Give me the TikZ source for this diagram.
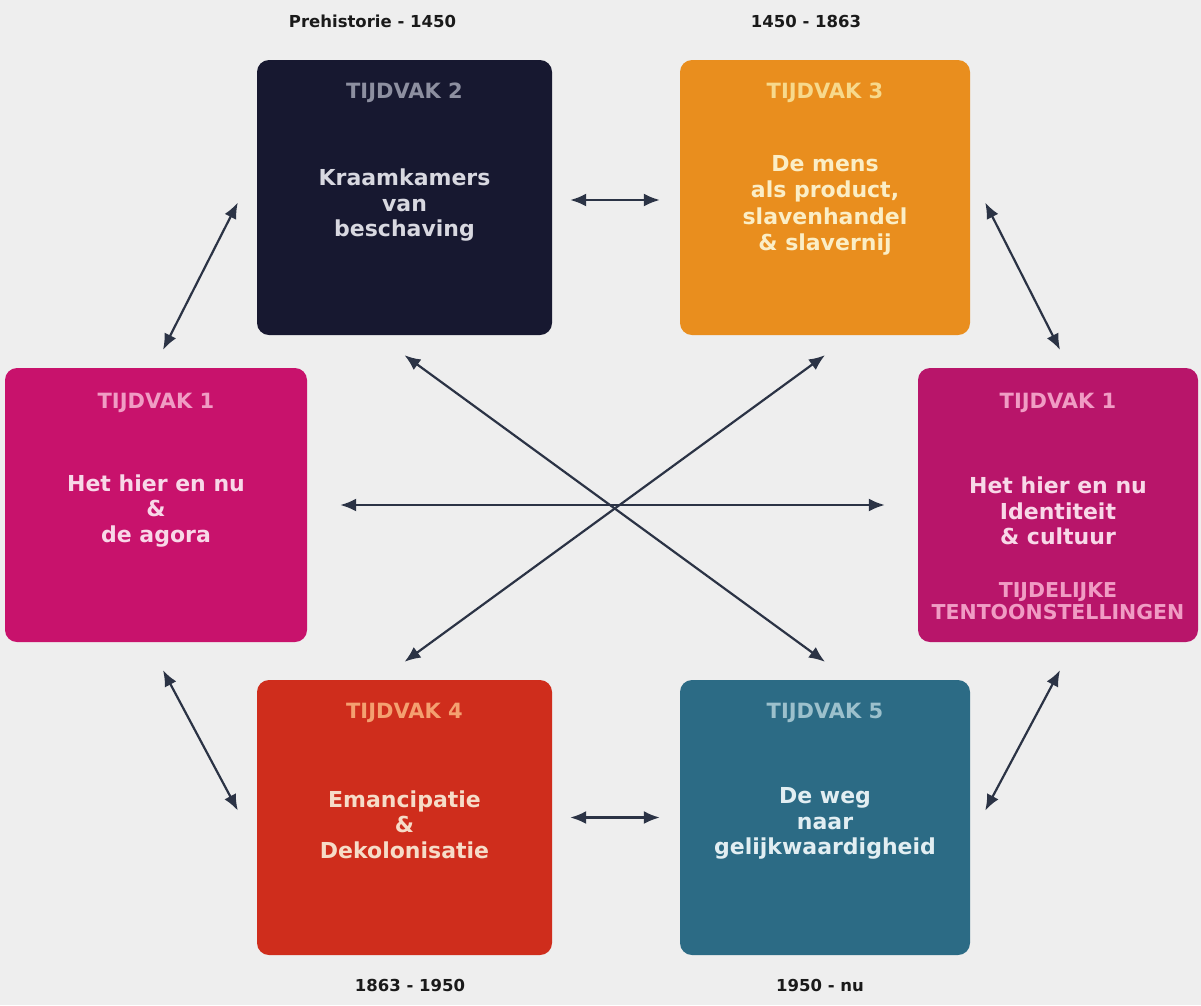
\documentclass[tikz,border=0pt]{standalone}
\usepackage{fontspec}
\setmainfont{DejaVu Sans}
\usetikzlibrary{arrows.meta,positioning,calc}

\definecolor{achtergrond}{RGB}{238,238,238}
\definecolor{navy}{RGB}{23,24,48}
\definecolor{navykop}{RGB}{141,143,160}
\definecolor{navytekst}{RGB}{216,216,224}
\definecolor{oranje}{RGB}{233,142,30}
\definecolor{oranjekop}{RGB}{247,217,140}
\definecolor{oranjetekst}{RGB}{251,238,198}
\definecolor{roze}{RGB}{200,18,108}
\definecolor{rozedonker}{RGB}{184,21,106}
\definecolor{rozekop}{RGB}{240,156,196}
\definecolor{rozetekst}{RGB}{248,216,232}
\definecolor{rood}{RGB}{207,45,28}
\definecolor{roodkop}{RGB}{244,160,112}
\definecolor{roodtekst}{RGB}{246,220,200}
\definecolor{petrol}{RGB}{44,107,133}
\definecolor{petrolkop}{RGB}{156,192,204}
\definecolor{petroltekst}{RGB}{226,238,242}
\definecolor{pijlkleur}{RGB}{43,51,69}
\definecolor{datumkleur}{RGB}{26,26,26}

\tikzset{
  tijdvak/.style={rounded corners=12pt, minimum width=295pt, minimum height=275pt, inner sep=0pt},
  kop/.style={align=center, font=\fontsize{21}{22}\selectfont\bfseries},
  tekst/.style={align=center, font=\fontsize{22}{25.5}\selectfont\bfseries},
  datum/.style={font=\fontsize{16.5}{18}\selectfont\bfseries, text=datumkleur},
  pijl/.style={<->, >={Latex[length=16pt,width=13pt]}, line width=2.2pt, draw=pijlkleur}
}

\begin{document}
\begin{tikzpicture}[x=1pt,y=-1pt]

      \fill[achtergrond] (0,0) rectangle (1201,1005);
      \useasboundingbox (0,0) rectangle (1201,1005);

      \node[tijdvak, fill=navy] at (404.5,197.5) (t2) {};
      \node[tijdvak, fill=oranje, minimum width=290pt] at (825,197.5) (t3) {};
      \node[tijdvak, fill=roze, minimum width=302pt, minimum height=274pt] at (156,505) (t1a) {};
      \node[tijdvak, fill=rozedonker, minimum width=280pt, minimum height=274pt] at (1058,505) (t1b) {};
      \node[tijdvak, fill=rood] at (404.5,817.5) (t4) {};
      \node[tijdvak, fill=petrol, minimum width=290pt] at (825,817.5) (t5) {};

      \node[kop, text=navykop] at ([yshift=-33pt]t2.north) (k2) {TIJDVAK 2};
      \node[kop, text=oranjekop] at ([yshift=-33pt]t3.north) (k3) {TIJDVAK 3};
      \node[kop, text=rozekop] at ([yshift=-35pt]t1a.north) (k1a) {TIJDVAK 1};
      \node[kop, text=rozekop] at ([yshift=-35pt]t1b.north) (k1b) {TIJDVAK 1};
      \node[kop, text=roodkop] at ([yshift=-33pt]t4.north) (k4) {TIJDVAK 4};
      \node[kop, text=petrolkop] at ([yshift=-33pt]t5.north) (k5) {TIJDVAK 5};

      \node[tekst, text=navytekst] at ([yshift=-8pt]t2.center) (m2) {Kraamkamers\\van\\beschaving};
      \node[tekst, text=oranjetekst, font=\fontsize{22}{26.5}\selectfont\bfseries] at ([yshift=-8pt]t3.center) (m3) {De mens\\als product,\\slavenhandel\\\& slavernij};
      \node[tekst, text=rozetekst] at ([yshift=-6pt]t1a.center) (m1a) {Het hier en nu\\\&\\de agora};
      \node[tekst, text=rozetekst] at ([yshift=-6pt]t1b.center) (m1b) {Het hier en nu\\Identiteit\\\& cultuur};
      \node[kop, text=rozekop, font=\fontsize{20.5}{22}\selectfont\bfseries] at ([yshift=-96pt]t1b.center) (tt) {TIJDELIJKE\\TENTOONSTELLINGEN};
      \node[tekst, text=roodtekst] at ([yshift=-7pt]t4.center) (m4) {Emancipatie\\\&\\Dekolonisatie};
      \node[tekst, text=petroltekst] at ([yshift=-6pt]t5.center) (m5) {De weg\\naar\\gelijkwaardigheid};

      \node[datum] at ([shift={(-32pt,38pt)}]t2.north) (d2) {Prehistorie - 1450};
      \node[datum] at ([shift={(-19pt,38pt)}]t3.north) (d3) {1450 - 1863};
      \node[datum] at ([shift={(5.5pt,-30pt)}]t4.south) (d4) {1863 - 1950};
      \node[datum] at ([shift={(-5pt,-30pt)}]t5.south) (d5) {1950 - nu};

      % rondgang
      \draw[pijl] ([shift={(18pt,-2.5pt)}]t2.east)--([shift={(-20pt,-2.5pt)}]t3.west);
      \draw[pijl] ([xshift=18pt]t4.east)--([xshift=-20pt]t5.west);
      \draw[pijl] ([shift={(7pt,18pt)}]t1a.north)--([shift={(-19pt,-5pt)}]t2.west);
      \draw[pijl] ([shift={(15pt,-5pt)}]t3.east)--([shift={(2pt,18pt)}]t1b.north);
      \draw[pijl] ([shift={(7pt,-28pt)}]t1a.south)--([shift={(-19pt,7pt)}]t4.west);
      \draw[pijl] ([shift={(2pt,-28pt)}]t1b.south)--([shift={(15pt,7pt)}]t5.east);

      % kruis in het midden
      \draw[pijl] ([xshift=33pt]t1a.east)--([xshift=-33pt]t1b.west);
      \draw[pijl] ([yshift=-20pt]t2.south)--([yshift=18pt]t5.north);
      \draw[pijl] ([yshift=-20pt]t3.south)--([yshift=18pt]t4.north);

    \end{tikzpicture}
\end{document}
